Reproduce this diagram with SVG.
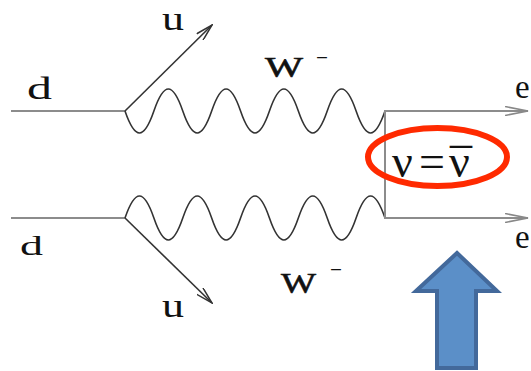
<svg xmlns="http://www.w3.org/2000/svg" width="531" height="371" viewBox="0 0 531 371">
  <style>
    .lbl { font-family: "Liberation Serif", "Times New Roman", serif; fill: #111; }
    .ferm { fill: none; stroke: #8c8c8c; stroke-width: 2; }
    .wave { fill: none; stroke: #333; stroke-width: 1.6; }
    .quark { fill: none; stroke: #333; stroke-width: 1.6; }
  </style>
  <defs>
    <marker id="headU" viewBox="0 0 18 10" refX="17" refY="5" markerWidth="18" markerHeight="10" markerUnits="userSpaceOnUse" orient="auto">
      <path d="M0,0.5 L17,5 L0,9.5" fill="none" stroke="#333" stroke-width="1.5"/>
    </marker>
    <marker id="headE" viewBox="0 0 24 10" refX="23" refY="5" markerWidth="24" markerHeight="10" markerUnits="userSpaceOnUse" orient="auto">
      <path d="M0,0.5 L23,5 L0,9.5" fill="none" stroke="#888" stroke-width="1.6"/>
    </marker>
  </defs>
  <rect width="531" height="371" fill="#fff"/>

  <g id="connectors">
    <line class="ferm" x1="11" y1="111" x2="125" y2="111"/>
    <line class="ferm" x1="11" y1="218" x2="125" y2="218"/>
    <line class="quark" x1="125" y1="111" x2="212" y2="25" marker-end="url(#headU)"/>
    <line class="quark" x1="125" y1="218" x2="212" y2="303" marker-end="url(#headU)"/>
    <path class="wave" d="M125,111 C135.11,140.3 143.78,140.3 153.89,111 C164,81.7 172.67,81.7 182.78,111 C192.89,140.3 201.56,140.3 211.67,111 C221.78,81.7 230.45,81.7 240.56,111 C250.67,140.3 259.34,140.3 269.44,111 C279.55,81.7 288.22,81.7 298.33,111 C308.44,140.3 317.11,140.3 327.22,111 C337.33,81.7 346,81.7 356.11,111 C366.22,140.3 374.89,140.3 385,111"/>
    <path class="wave" d="M125,218 C135.11,188.7 143.78,188.7 153.89,218 C164,247.3 172.67,247.3 182.78,218 C192.89,188.7 201.56,188.7 211.67,218 C221.78,247.3 230.45,247.3 240.56,218 C250.67,188.7 259.34,188.7 269.44,218 C279.55,247.3 288.22,247.3 298.33,218 C308.44,188.7 317.11,188.7 327.22,218 C337.33,247.3 346,247.3 356.11,218 C366.22,188.7 374.89,188.7 385,218"/>
    <line class="ferm" x1="385" y1="110" x2="385" y2="219"/>
    <line class="ferm" x1="385" y1="111" x2="528" y2="111" marker-end="url(#headE)"/>
    <line class="ferm" x1="385" y1="218" x2="528" y2="218" marker-end="url(#headE)"/>
  </g>

  <g id="labels">
    <text class="lbl" x="27" y="99" font-size="32" textLength="25" lengthAdjust="spacingAndGlyphs">d</text>
    <text class="lbl" x="20" y="255" font-size="28" textLength="23" lengthAdjust="spacingAndGlyphs">d</text>
    <text class="lbl" x="162" y="30" font-size="34" textLength="22" lengthAdjust="spacingAndGlyphs">u</text>
    <text class="lbl" x="162" y="317" font-size="34" textLength="22" lengthAdjust="spacingAndGlyphs">u</text>
    <text class="lbl" x="265" y="77" font-size="30" stroke="#111" stroke-width="0.6"><tspan textLength="38" lengthAdjust="spacingAndGlyphs">W</tspan><tspan x="316" y="65" font-size="22" stroke-width="0" textLength="12" lengthAdjust="spacingAndGlyphs">−</tspan></text>
    <text class="lbl" x="281" y="293" font-size="30" stroke="#111" stroke-width="0.6"><tspan textLength="35" lengthAdjust="spacingAndGlyphs">W</tspan><tspan x="330" y="277" font-size="22" stroke-width="0" textLength="12" lengthAdjust="spacingAndGlyphs">−</tspan></text>
    <text class="lbl" x="515" y="98" font-size="33">e</text>
    <text class="lbl" x="515" y="248" font-size="33">e</text>
  </g>

  <g id="annotation">
    <text class="lbl" y="177" font-size="46"><tspan x="392">ν</tspan><tspan x="419">=</tspan><tspan x="449">ν</tspan><tspan x="450" y="181" textLength="22" lengthAdjust="spacingAndGlyphs">¯</tspan></text>
    <ellipse cx="437.5" cy="157" rx="69.5" ry="29" fill="none" stroke="#ff2a00" stroke-width="6"/>
  </g>

  <g id="blue-arrow">
    <path d="M457,253 L497,291 L476,291 L476,368 L437,368 L437,291 L416,291 Z" fill="#5b8fc8" stroke="#43699b" stroke-width="4" stroke-linejoin="miter"/>
  </g>
</svg>
